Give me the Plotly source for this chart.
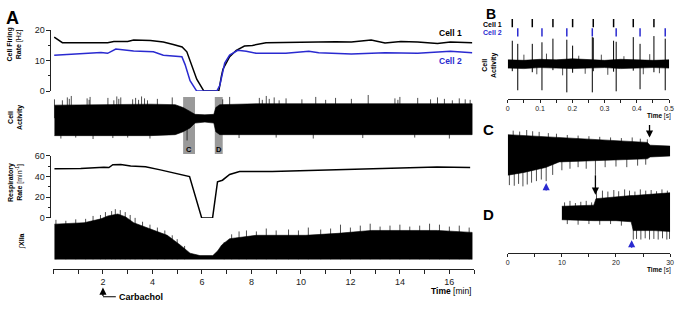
import plotly.graph_objects as go

W, H = 683, 309
def fx(px): return px / W
def fy(py): return 1 - py / H

FONT = "Arial, Liberation Sans, sans-serif"
BLUE = "#2a2ad0"
GRAY = "#9a9a9a"

# ---------------- Panel A data ----------------
rate_t1 = [0.03,0.36,2.19,2.44,3.0,3.24,3.92,4.44,4.84,5.2,5.39,5.59,5.79,6.08,6.68,6.79,6.85,7.12,7.39,7.72,
           8.04,8.59,9.6,10.72,11.4,12.04,12.84,13.4,14.04,14.72,15.52,16.04,16.92]
rate_c1 = [17.7,15.9,15.9,16.3,16.3,16.8,16.6,16.1,15.3,14.5,12.9,8.7,3.9,0,0,5,7.2,11.3,13.4,14.8,
           15.0,15.9,16.0,16.3,16.2,16.1,16.8,15.8,16.3,16.1,15.6,16.1,15.9]
rate_t2 = [0.03,1.25,1.92,2.19,2.52,3.24,4.04,4.44,5.19,5.32,5.52,5.79,6.6,6.72,6.92,7.12,7.45,7.79,8.19,
           9.39,10.32,10.72,12.04,13.4,14.72,16.04,16.92]
rate_c2 = [11.8,12.4,12.7,12.4,13.8,13.2,12.9,11.8,11.3,8.7,3.4,0,0,1.8,9.2,11.8,13.4,13.1,12.4,
           12.4,13.1,12.6,12.2,12.6,12.4,13.1,12.6]

resp_t = [0.04,1.1,2.04,2.24,2.4,2.72,3.12,3.72,4.32,4.92,5.4,5.5,5.99,6.43,6.63,6.83,7.12,7.52,8.84,
          10.2,11.5,12.84,14.2,15.5,16.84]
resp_v = [47.5,47.8,49.0,48.8,51.5,51.8,50.3,49.5,46.5,43.5,41.2,40,0,0,35,36.5,42,45,45,
          46,46.5,47.8,49,49.3,48.8]

act_t   = [0.04,1.92,3.92,4.92,5.24,5.52,5.72,6.12,6.48,6.56,6.72,8.32,11.92,16.92]
act_top = [0.54,0.56,0.58,0.56,0.44,0.28,0.16,0.14,0.16,0.44,0.56,0.60,0.60,0.60]
act_bot = [-0.72,-0.72,-0.72,-0.68,-0.56,-0.40,-0.20,-0.16,-0.20,-0.56,-0.68,-0.70,-0.68,-0.68]
act_up_t = [0.04,0.36,0.56,0.64,0.72,1.36,1.44,1.48,2.2,2.44,2.56,2.64,2.72,3.2,3.32,3.44,3.56,3.68,3.8,
            4.2,4.8,6.84,7.12,8.32,8.44,8.6,8.72,8.92,9.12,9.4,10.04,10.6,11.0,11.4,12.04,12.72,13.8,
            13.92,14.0,14.72,15.24,15.52,15.8,16.12,16.4,16.64,16.84]
act_up_v = [0.78,0.74,0.86,0.80,0.92,0.82,0.76,0.88,0.84,0.74,0.90,0.80,0.86,0.78,0.84,0.76,0.90,0.82,0.74,
            0.80,0.86,0.78,0.88,0.84,0.76,0.92,0.80,0.86,0.74,0.82,0.78,0.88,0.76,0.84,0.80,0.96,0.82,
            0.76,0.88,0.84,0.78,0.86,0.80,0.74,0.82,0.78,0.76]
act_dn_t = [0.3,0.9,1.6,2.4,3.0,3.9,5.4,7.5,9.0,10.5,12.5,14.6,16.0]
act_dn_v = [-0.84,-0.80,-0.86,-0.82,-0.80,-0.84,-0.92,-0.82,-0.80,-0.84,-0.82,-0.80,-0.84]

x4_t   = [0.04,1.24,1.92,2.2,2.6,2.92,3.24,3.92,4.6,5.12,5.52,5.92,6.44,6.64,6.8,7.12,8.2,10.2,11.5,12.84,15.52,16.92]
x4_top = [0.73,0.76,0.84,0.90,0.94,0.88,0.76,0.63,0.50,0.30,0.13,0.08,0.08,0.18,0.30,0.43,0.50,0.50,0.54,0.60,0.60,0.56]
x4_bot = [-0.02,-0.03,-0.02,-0.02,-0.03,-0.02,-0.02,-0.03,-0.02,-0.02,-0.03,-0.04,-0.04,-0.03,-0.02,-0.02,
          -0.03,-0.02,-0.03,-0.02,-0.02,-0.03]
x4_spk_t = [0.1,0.5,0.9,1.3,1.6,1.9,2.1,2.35,2.5,2.7,2.9,3.1,3.3,3.6,3.9,4.2,4.5,4.8,5.0,5.3,6.9,7.2,7.5,7.8,
            8.2,8.6,9.0,9.5,9.9,10.3,10.8,11.2,11.6,12.0,12.4,12.8,13.2,13.6,14.0,14.4,14.8,15.2,15.6,16.0,16.4,16.8]
x4_spk_v = [0.82,0.80,0.83,0.84,0.90,0.92,0.98,1.00,1.04,1.02,0.98,0.92,0.86,0.78,0.72,0.66,0.60,0.50,0.42,0.28,
            0.36,0.52,0.58,0.60,0.58,0.64,0.60,0.62,0.60,0.66,0.62,0.64,0.72,0.66,0.70,0.74,0.68,0.70,0.72,0.68,
            0.70,0.74,0.72,0.68,0.70,0.66]

# ---------------- Panel B data ----------------
b_t   = [0,0.05,0.1,0.15,0.2,0.25,0.3,0.35,0.4,0.45,0.5]
b_top = [0.10,0.09,0.11,0.10,0.12,0.10,0.09,0.11,0.10,0.09,0.10]
b_bot = [-0.06,-0.07,-0.05,-0.06,-0.07,-0.06,-0.05,-0.07,-0.06,-0.05,-0.06]
cell1_spk = [0.014,0.076,0.140,0.201,0.265,0.328,0.389,0.453]
cell1_up  = [0.47,0.41,0.51,0.375,0.53,0.47,0.54,0.56]
cell1_dn  = [-0.12,-0.14,-0.10,-0.15,-0.12,-0.13,-0.11,-0.14]
cell2_spk = [0.031,0.106,0.183,0.262,0.336,0.410,0.488]
cell2_up  = [0.41,0.44,0.49,0.54,0.45,0.41,0.51]
cell2_dn  = [-0.49,-0.49,-0.53,-0.53,-0.51,-0.47,-0.49]
b_noise_t = [0.05,0.09,0.12,0.17,0.22,0.24,0.29,0.31,0.36,0.42,0.44,0.47]
b_noise_v = [0.20,-0.18,0.22,-0.20,0.18,-0.17,0.20,-0.19,0.17,-0.18,0.21,-0.16]

# ---------------- Panel C / D data ----------------
c_t   = [0,3,7,9.5,15,21,25.8,26.3,30]
c_top = [0.75,0.72,0.69,0.66,0.59,0.53,0.50,0.41,0.38]
c_bot = [-0.56,-0.47,-0.31,-0.13,-0.09,-0.06,-0.03,0.03,0.06]
c_up_t = [1.0,2.2,3.5,4.6,5.8,7.5,9.0,11,13,15,17,19,21,23,24.5,25.8]
c_up_v = [0.88,0.85,0.90,0.86,0.84,0.80,0.78,0.74,0.72,0.70,0.68,0.66,0.64,0.66,0.62,0.60]
c_dn_t = [0.3,1.2,2.0,2.8,3.6,4.4,5.3,6.2,7.1,8.3,10,11.5,13,14.5,16.2,18,20,22,24,25.5]
c_dn_v = [-0.88,-0.90,-0.84,-0.92,-0.86,-0.80,-0.75,-0.70,-0.75,-0.55,-0.40,-0.35,-0.30,-0.35,-0.55,
          -0.30,-0.28,-0.30,-0.25,-0.22]

d_t   = [10,15.9,16.3,20,22.8,23.2,27,30]
d_top = [0.375,0.41,0.62,0.69,0.72,0.72,0.78,0.81]
d_bot = [-0.06,-0.09,-0.09,-0.09,-0.125,-0.41,-0.41,-0.44]
d_up_t = [10.5,11.5,12.5,13.5,14.5,15.5,16.4,17.5,18.5,19.6,20.5,21.6,22.5,23.5,24.5,25.5,26.5,27.5,28.5,29.5]
d_up_v = [0.50,0.55,0.48,0.52,0.55,0.50,0.95,0.88,0.85,0.90,0.86,0.92,0.88,0.85,0.92,0.88,0.90,0.86,0.92,0.88]
d_dn_t = [11,13,15,17,19,21,23.2,23.8,24.6,25.4,26.2,27,27.8,28.6,29.4,29.9]
d_dn_v = [-0.20,-0.22,-0.20,-0.22,-0.20,-0.25,-0.70,-0.68,-0.70,-0.66,-0.70,-0.68,-0.70,-0.66,-0.70,-0.68]

time_ticks_A = list(range(0, 18))
time_labels_A = [str(v) if (v % 2 == 0 and 0 < v < 17) else "" for v in time_ticks_A]

# ---------------- helpers ----------------
def band(t, top, bot, xa, ya, color="black"):
    return go.Scatter(x=list(t) + list(t)[::-1], y=list(top) + list(bot)[::-1], fill="toself",
                      fillcolor=color, line=dict(color=color, width=0.6), mode="lines",
                      xaxis=xa, yaxis=ya, hoverinfo="skip", showlegend=False)

def spikes(t, lo, hi, xa, ya, color="black", width=0.8):
    xs, ys = [], []
    for i, tt in enumerate(t):
        a = lo[i] if isinstance(lo, list) else lo
        b = hi[i] if isinstance(hi, list) else hi
        xs += [tt, tt, None]
        ys += [a, b, None]
    return go.Scatter(x=xs, y=ys, mode="lines", line=dict(color=color, width=width),
                      xaxis=xa, yaxis=ya, hoverinfo="skip", showlegend=False)

fig = go.Figure()

# Panel A
fig.add_trace(go.Scatter(x=rate_t1, y=rate_c1, mode="lines", line=dict(color="black", width=1.5),
                         xaxis="x", yaxis="y", showlegend=False))
fig.add_trace(go.Scatter(x=rate_t2, y=rate_c2, mode="lines", line=dict(color=BLUE, width=1.5),
                         xaxis="x", yaxis="y", showlegend=False))
fig.add_trace(band(act_t, act_top, act_bot, "x", "y2"))
fig.add_trace(spikes(act_up_t, 0, act_up_v, "x", "y2", width=0.7))
fig.add_trace(spikes(act_dn_t, 0, act_dn_v, "x", "y2", width=0.7))
fig.add_trace(go.Scatter(x=resp_t, y=resp_v, mode="lines", line=dict(color="black", width=1.5),
                         xaxis="x", yaxis="y3", showlegend=False))
fig.add_trace(band(x4_t, x4_top, x4_bot, "x", "y4"))
fig.add_trace(spikes(x4_spk_t, 0, x4_spk_v, "x", "y4", width=0.7))

# Panel B
fig.add_trace(band(b_t, b_top, b_bot, "x2", "y5"))
fig.add_trace(spikes(b_noise_t, 0, b_noise_v, "x2", "y5", width=0.7))
fig.add_trace(spikes(cell1_spk, cell1_dn, cell1_up, "x2", "y5", width=1))
fig.add_trace(spikes(cell2_spk, cell2_dn, cell2_up, "x2", "y5", width=1))
fig.add_trace(go.Scatter(x=cell1_spk, y=[2] * len(cell1_spk), mode="markers",
                         marker=dict(symbol="line-ns-open", size=6, color="black",
                                     line=dict(color="black", width=1.5)),
                         xaxis="x2", yaxis="y6", showlegend=False))
fig.add_trace(go.Scatter(x=cell2_spk, y=[1] * len(cell2_spk), mode="markers",
                         marker=dict(symbol="line-ns-open", size=6, color=BLUE,
                                     line=dict(color=BLUE, width=1.5)),
                         xaxis="x2", yaxis="y6", showlegend=False))

# Panel C
fig.add_trace(band(c_t, c_top, c_bot, "x3", "y7"))
fig.add_trace(spikes(c_up_t, 0, c_up_v, "x3", "y7", width=0.7))
fig.add_trace(spikes(c_dn_t, 0, c_dn_v, "x3", "y7", width=0.7))
# Panel D
fig.add_trace(band(d_t, d_top, d_bot, "x3", "y8"))
fig.add_trace(spikes(d_up_t, 0, d_up_v, "x3", "y8", width=0.7))
fig.add_trace(spikes(d_dn_t, 0, d_dn_v, "x3", "y8", width=0.7))

axcol = "#222"
def ax(**kw):
    base = dict(showline=True, linecolor=axcol, linewidth=1, ticks="outside", ticklen=4,
                tickcolor=axcol, tickwidth=1, showgrid=False, zeroline=False,
                tickfont=dict(size=9, color=axcol, family=FONT), fixedrange=True)
    base.update(kw)
    return base

hidden = dict(visible=False, fixedrange=True)

fig.update_layout(
    width=W, height=H, margin=dict(l=0, r=0, t=0, b=0),
    paper_bgcolor="white", plot_bgcolor="rgba(0,0,0,0)",
    font=dict(family=FONT, color="black"),
    xaxis=ax(domain=[fx(52), fx(477)], range=[0, 17], anchor="free", position=fy(273),
             tickvals=time_ticks_A, ticktext=time_labels_A),
    yaxis=ax(domain=[fy(89), fy(26)], range=[0, 20], anchor="free", position=fx(49),
             dtick=10, minor=dict(dtick=5, ticklen=2, ticks="outside", tickcolor=axcol)),
    yaxis2=dict(hidden, domain=[fy(142), fy(92)], range=[-1, 1], anchor="x"),
    yaxis3=ax(domain=[fy(220), fy(156)], range=[0, 60], anchor="free", position=fx(49),
              dtick=20, minor=dict(dtick=10, ticklen=2, ticks="outside", tickcolor=axcol)),
    yaxis4=dict(hidden, domain=[fy(263), fy(208)], range=[0, 1.1], anchor="x"),
    xaxis2=ax(domain=[fx(511), fx(674)], range=[0, 0.5], anchor="free", position=fy(97),
              dtick=0.1, ticklen=3, tickfont=dict(size=7, color=axcol, family=FONT),
              minor=dict(dtick=0.05, ticklen=3, ticks="outside", tickcolor=axcol)),
    yaxis5=dict(hidden, domain=[fy(94), fy(30)], range=[-0.6, 0.6], anchor="x2"),
    yaxis6=dict(hidden, domain=[fy(33), fy(14)], range=[0.5, 2.5], anchor="x2"),
    xaxis3=ax(domain=[fx(511), fx(675)], range=[0, 30], anchor="free", position=fy(256),
              dtick=10, ticklen=3, tickfont=dict(size=7, color=axcol, family=FONT),
              minor=dict(dtick=5, ticklen=3, ticks="outside", tickcolor=axcol)),
    yaxis7=dict(hidden, domain=[fy(190), fy(126)], range=[-1, 1], anchor="x3"),
    yaxis8=dict(hidden, domain=[fy(252), fy(188)], range=[-1, 1], anchor="x3"),
)

# gray windows C and D in panel A
for t0, t1 in [(5.24, 5.72), (6.52, 6.84)]:
    fig.add_shape(type="rect", xref="x", yref="paper", x0=t0, x1=t1, y0=fy(154), y1=fy(95),
                  fillcolor=GRAY, line=dict(width=0), layer="below")
# carbachol connector line
fig.add_shape(type="line", xref="x", yref="paper", x0=2, x1=2.52, y0=fy(301.5), y1=fy(301.5),
              line=dict(color="black", width=1.2))

def txt(x, y, s, size=9, xanchor="center", angle=0, color="black", xref="paper", yref="paper"):
    fig.add_annotation(x=x, y=y, xref=xref, yref=yref, text=s, showarrow=False, textangle=angle,
                       xanchor=xanchor, yanchor="middle", font=dict(size=size, color=color, family=FONT))

def arrow(x, y_tip, dy, xref, color="black"):
    fig.add_annotation(x=x, y=fy(y_tip), xref=xref, yref="paper", ax=0, ay=dy, text="",
                       showarrow=True, arrowhead=2, arrowsize=1.1, arrowwidth=1.3, arrowcolor=color,
                       font=dict(size=8))

# panel letters
txt(fx(11), fy(13), "<b>A</b>", size=18)
txt(fx(494), fy(9), "<b>B</b>", size=14)
txt(fx(492), fy(129), "<b>C</b>", size=15)
txt(fx(492), fy(216), "<b>D</b>", size=15)

# axis titles panel A
txt(fx(13), fy(41), "<b>Cell Firing</b><br><b>Rate</b> [Hz]", size=7, angle=-90)
txt(fx(13), fy(116), "<b>Cell</b><br><b>Activity</b>", size=7, angle=-90)
txt(fx(13), fy(183), "<b>Respiratory</b><br><b>Rate</b> [min<sup>-1</sup>]", size=7, angle=-90)
txt(fx(20), fy(244), "∫<b>XIIa</b>", size=7, angle=-90)

txt(fx(467), fy(29), "<b>Cell 1</b>", size=8.5, xanchor="right")
txt(fx(467), fy(58), "<b>Cell 2</b>", size=8.5, xanchor="right", color=BLUE)
txt(fx(5.48 * 25 + 52), fy(149), "<b>C</b>", size=7.5)
txt(fx(6.68 * 25 + 52), fy(149), "<b>D</b>", size=7.5)

txt(fx(476), fy(296), "<b>Time</b> [min]", size=8.5, xanchor="right")
txt(fx(116), fy(301.5), "<b>Carbachol</b>", size=9, xanchor="left")
arrow(2, 292, 10, "x")

# panel B labels
txt(fx(507), fy(20.5), "<b>Cell 1</b>", size=7, xanchor="right")
txt(fx(507), fy(28.5), "<b>Cell 2</b>", size=7, xanchor="right", color=BLUE)
txt(fx(493), fy(62), "<b>Cell</b><br><b>Activity</b>", size=7, angle=-90)
txt(fx(678), fy(114.5), "<b>Time</b> [s]", size=6.5, xanchor="right")
txt(fx(678), fy(274), "<b>Time</b> [s]", size=6.5, xanchor="right")

# arrows in C and D
arrow(26.2, 137, -14, "x3")
arrow(7.1, 184, 9, "x3", color=BLUE)
arrow(16.2, 196, -21, "x3")
arrow(22.9, 243, 9, "x3", color=BLUE)

fig.write_html("out.html", config={"displayModeBar": False},
               post_script="document.body.style.margin='0';document.body.style.overflow='hidden';")
